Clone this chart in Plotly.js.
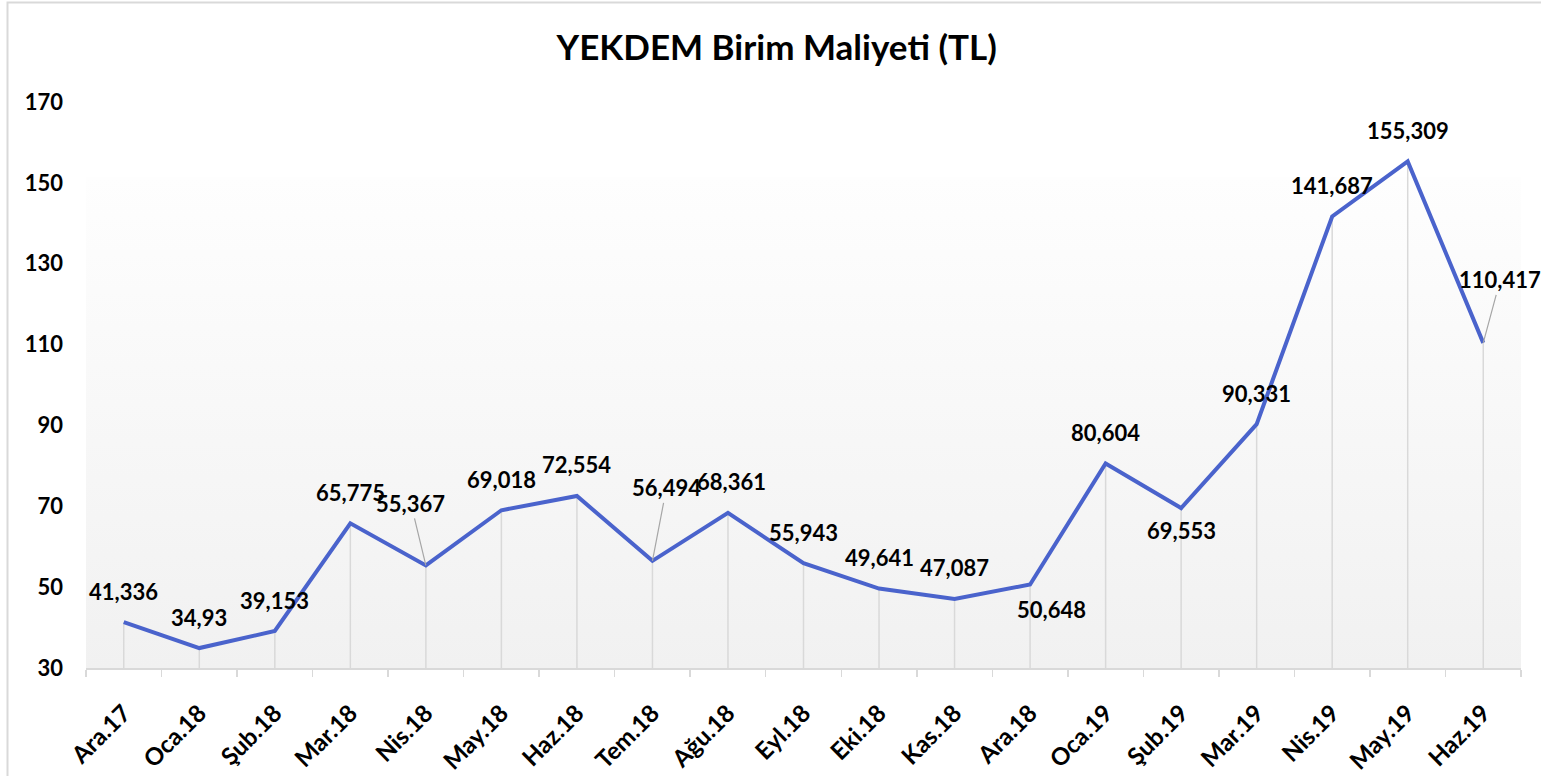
<!DOCTYPE html>
<html>
<head>
<meta charset="utf-8">
<script src="https://cdn.plot.ly/plotly-3.0.1.min.js"></script>
<style>
  html, body { margin: 0; padding: 0; background: #ffffff; }
  #chart { width: 1541px; height: 776px; }
</style>
</head>
<body>
<div id="chart"></div>
<script>
// ---- data ----
const categories = ["Ara.17","Oca.18","Şub.18","Mar.18","Nis.18","May.18","Haz.18","Tem.18","Ağu.18","Eyl.18","Eki.18","Kas.18","Ara.18","Oca.19","Şub.19","Mar.19","Nis.19","May.19","Haz.19"];
const values = [41.336,34.93,39.153,65.775,55.367,69.018,72.554,56.494,68.361,55.943,49.641,47.087,50.648,80.604,69.553,90.331,141.687,155.309,110.417];
const yTickValues = [30,50,70,90,110,130,150,170];

// ---- styling ----
const FONT = "Lato, 'Open Sans', sans-serif";
const LINE_COLOR = "#4a63cc";
const GRID_COLOR = "#d9d9d9";
const Y_MIN = 30, Y_MAX = 170;

// label offsets (px) relative to the point: [dx, dy] of text centre, screen coords (dy down)
const defaultOffset = [0, -31];
const labelOffsets = {
  4: {d: [-15, -62], leader: true},
  7: {d: [14, -73], leader: true},
  8: {d: [4, -31], leader: false},
  12: {d: [21, 25], leader: false},
  14: {d: [0, 22], leader: false},
  18: {d: [17, -63], leader: true}
};

const xIdx = categories.map((c, i) => i);

const dropTrace = {
  x: xIdx, y: values, type: "scatter", mode: "markers",
  marker: {size: 1, opacity: 0},
  error_y: {
    type: "data", symmetric: false,
    array: values.map(() => 0),
    arrayminus: values.map(v => v - Y_MIN),
    width: 0, color: GRID_COLOR, thickness: 1.5
  },
  hoverinfo: "skip", showlegend: false
};

const lineTrace = {
  x: xIdx, y: values, type: "scatter", mode: "lines",
  line: {color: LINE_COLOR, width: 4},
  hoverinfo: "skip", showlegend: false
};

const fmt = v => String(v).replace(".", ",");

const annotations = values.map((v, i) => {
  const o = labelOffsets[i];
  const d = o ? o.d : defaultOffset;
  const base = {
    x: i, y: v, xref: "x", yref: "y", text: fmt(v),
    font: {family: FONT, size: 22, color: "#000000", weight: 700}
  };
  if (o && o.leader) {
    return Object.assign(base, {
      showarrow: true, ax: d[0], ay: d[1], arrowhead: 0, arrowwidth: 1.2,
      arrowcolor: "#a6a6a6", standoff: 0, startstandoff: 0
    });
  }
  return Object.assign(base, {showarrow: false, xshift: d[0], yshift: -d[1]});
});

// gradient background image for plot area
const gradSvg = '<svg xmlns="http://www.w3.org/2000/svg" width="10" height="100" preserveAspectRatio="none">' +
  '<defs><linearGradient id="g" x1="0" y1="0" x2="0" y2="1">' +
  '<stop offset="0" stop-color="#fefefe"/><stop offset="1" stop-color="#f1f1f1"/>' +
  '</linearGradient></defs><rect width="10" height="100" fill="url(#g)"/></svg>';
const gradUrl = "data:image/svg+xml;charset=utf-8," + encodeURIComponent(gradSvg);

const layout = {
  width: 1541, height: 776,
  margin: {l: 86, r: 20, t: 102, b: 108},
  paper_bgcolor: "#ffffff",
  plot_bgcolor: "rgba(0,0,0,0)",
  title: {
    text: "YEKDEM Birim Maliyeti (TL)",
    font: {family: FONT, size: 35, color: "#000000", weight: 700},
    x: 0.504, xref: "container", xanchor: "center",
    y: 0.938, yref: "container", yanchor: "middle"
  },
  xaxis: {
    range: [-0.5, 18.5],
    tickmode: "array", tickvals: xIdx, ticktext: categories,
    tickangle: -45,
    ticks: "",
    minor: {tickmode: "linear", tick0: -0.5, dtick: 1, ticks: "outside", ticklen: 7, tickcolor: GRID_COLOR, tickwidth: 1.5, showgrid: false},
    showline: true, linecolor: GRID_COLOR, linewidth: 1.5,
    showgrid: false, zeroline: false,
    tickfont: {family: FONT, size: 24, color: "#000000", weight: 700},
    ticklabelstandoff: 20,
    fixedrange: true
  },
  yaxis: {
    range: [Y_MIN, Y_MAX],
    tickmode: "array", tickvals: yTickValues,
    showline: false, showgrid: false, zeroline: false, ticks: "",
    tickfont: {family: FONT, size: 22, color: "#000000", weight: 700},
    ticklabelstandoff: 22,
    fixedrange: true
  },
  images: [{
    source: gradUrl, xref: "paper", yref: "paper",
    x: 0, y: 0.8675, sizex: 1, sizey: 0.8675,
    xanchor: "left", yanchor: "top", sizing: "stretch", layer: "below"
  }],
  shapes: [{
    type: "rect", xref: "paper", yref: "paper",
    x0: -0.0547, x1: 1.2, y0: -0.5, y1: 1.1758,
    line: {color: GRID_COLOR, width: 2}, fillcolor: "rgba(0,0,0,0)", layer: "above"
  }],
  annotations: annotations,
  showlegend: false
};

Plotly.newPlot("chart", [dropTrace, lineTrace], layout, {displayModeBar: false, staticPlot: true});
</script>
</body>
</html>
